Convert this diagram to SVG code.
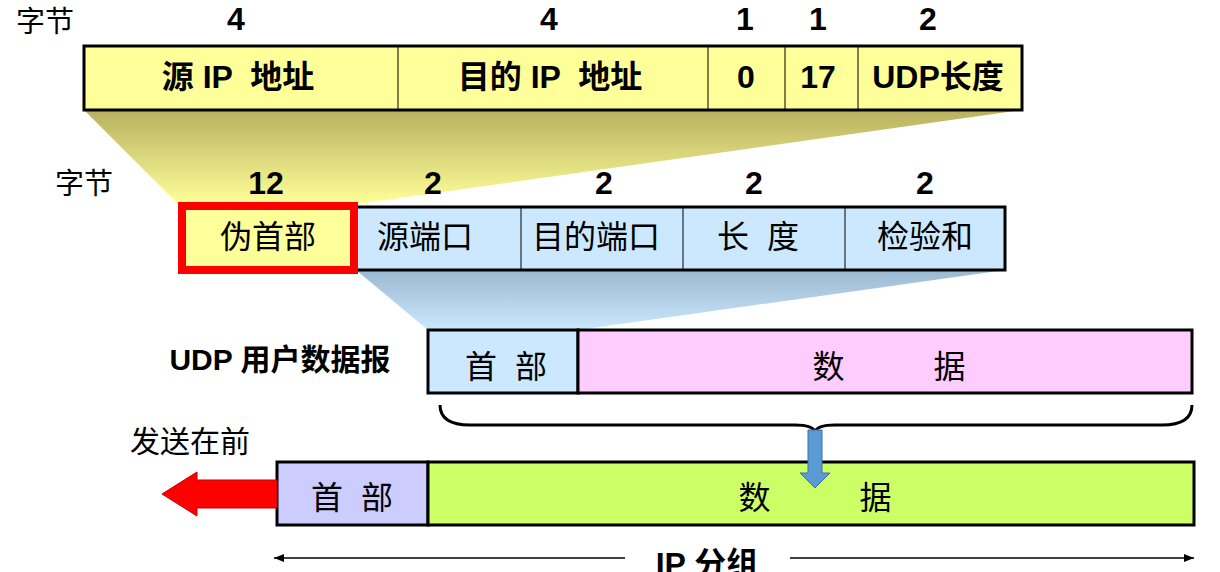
<svg xmlns="http://www.w3.org/2000/svg" width="1220" height="572" viewBox="0 0 1220 572">
<style>
text{font-family:"Liberation Sans","Noto Sans CJK SC",sans-serif;font-size:32px;text-anchor:middle;fill:#000}
.b{font-weight:bold}
.box{stroke:#000;stroke-width:3}
.div{stroke:#000;stroke-width:1}
</style>
<defs>
<linearGradient id="gy" x1="0" y1="0" x2="0" y2="1"><stop offset="0" stop-color="#b8b060"/><stop offset="1" stop-color="#ffff99"/></linearGradient>
<linearGradient id="gb" x1="0" y1="0" x2="0" y2="1"><stop offset="0" stop-color="#9ab8d0"/><stop offset="1" stop-color="#cce8ff"/></linearGradient>
<marker id="ah" viewBox="0 0 10 10" refX="10" refY="5" markerWidth="10" markerHeight="10" orient="auto-start-reverse" markerUnits="userSpaceOnUse"><path d="M0,1 L10,5 L0,9 z" fill="#000"/></marker>
</defs>
<g id="shading">
<polygon points="84,110 1022,110 358,204 178,204" fill="url(#gy)"/>
<polygon points="356,270 1005,270 578,330 428,330" fill="url(#gb)"/>
</g>
<g id="labels">
<text x="45" y="32" style="font-size:29px">字节</text>
<text x="236" y="30" class="b">4</text><text x="549" y="30" class="b">4</text>
<text x="745" y="30" class="b">1</text><text x="818" y="30" class="b">1</text><text x="928" y="30" class="b">2</text>
<text x="84" y="194" style="font-size:29px">字节</text>
<text x="266" y="194" class="b">12</text><text x="433" y="194" class="b">2</text><text x="604" y="194" class="b">2</text><text x="754" y="194" class="b">2</text><text x="925" y="194" class="b">2</text>
<text x="280" y="370" class="b" style="font-size:30px">UDP 用户数据报</text>
<text x="190" y="452" style="font-size:30px">发送在前</text>
<text x="707" y="575" class="b">IP 分组</text>
</g>
<g id="pseudo-header">
<rect x="84" y="46" width="938" height="64" fill="#ffff99" class="box"/>
<line x1="398" y1="47" x2="398" y2="109" class="div"/><line x1="708" y1="47" x2="708" y2="109" class="div"/>
<line x1="785" y1="47" x2="785" y2="109" class="div"/><line x1="858" y1="47" x2="858" y2="109" class="div"/>
<text x="238" y="88" class="b" xml:space="preserve">源 IP  地址</text><text x="550" y="88" class="b" xml:space="preserve">目的 IP  地址</text>
<text x="746" y="88" class="b">0</text><text x="818" y="88" class="b">17</text><text x="938" y="88" class="b">UDP长度</text>
</g>
<g id="udp-header">
<rect x="356" y="207" width="649" height="63" fill="#cce8ff" class="box"/>
<line x1="521" y1="208" x2="521" y2="269" class="div"/><line x1="683" y1="208" x2="683" y2="269" class="div"/><line x1="845" y1="208" x2="845" y2="269" class="div"/>
<text x="425" y="248">源端口</text><text x="596" y="248">目的端口</text><text x="758" y="248" xml:space="preserve">长  度</text><text x="925" y="248">检验和</text>
<rect x="182" y="206" width="172" height="64" fill="#ffff99" stroke="#ff0000" stroke-width="8"/>
<text x="268" y="248">伪首部</text>
</g>
<g id="udp-datagram">
<rect x="428" y="330" width="150" height="63" fill="#cce8ff" class="box"/>
<rect x="578" y="330" width="614" height="63" fill="#ffccff" class="box"/>
<text x="506" y="378" xml:space="preserve">首  部</text><text x="889" y="378" xml:space="preserve">数          据</text>
</g>
<g id="ip-packet">
<rect x="277" y="462" width="151" height="63" fill="#ccccff" class="box"/>
<rect x="428" y="462" width="766" height="63" fill="#ccff66" class="box"/>
<text x="352" y="509" xml:space="preserve">首  部</text><text x="815" y="509" xml:space="preserve">数          据</text>
</g>
<g id="connectors">
<path d="M440,405 Q440,425 470,425 L795,425 Q813,425 815,432 Q817,425 835,425 L1162,425 Q1192,425 1192,405" fill="none" stroke="#000" stroke-width="3"/>
<polygon points="808,430 822,430 822,473 830,473 815,488 800,473 808,473" fill="#5b9bd5" stroke="#41719c" stroke-width="1"/>
<polygon points="277,480 197,480 197,472 162,494 197,516 197,508 277,508" fill="#ff0000" stroke="#c00000" stroke-width="1"/>
<line x1="274" y1="558" x2="625" y2="558" stroke="#000" stroke-width="1.5" marker-start="url(#ah)"/>
<line x1="790" y1="558" x2="1194" y2="558" stroke="#000" stroke-width="1.5" marker-end="url(#ah)"/>
</g>
</svg>
